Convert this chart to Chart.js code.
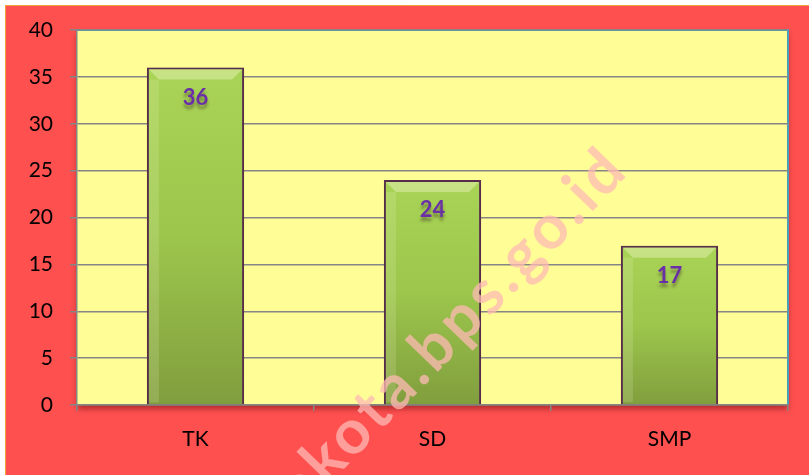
<!DOCTYPE html>
<html>
<head>
<meta charset="utf-8">
<script src="https://cdn.jsdelivr.net/npm/chart.js@4"></script>
<style>
  html, body { margin: 0; padding: 0; background: #fff; }
  #wrap { width: 809px; height: 475px; }
</style>
</head>
<body>
<div id="wrap"><canvas id="grafik"></canvas></div>
<script>
const KATEGORI = ['TK', 'SD', 'SMP'];
const JUMLAH = [36, 24, 17];
const SUMBU_Y = { min: 0, max: 40, langkah: 5 };
const TANDA_AIR_DEPAN = 'okota';
const TANDA_AIR_BELAKANG = '.bps.go.id';

const WARNA = {
  LATAR: '#ff5050',
  AREA: '#fffd96',
  GRID: '#868686',
  TEPI_AREA: '#4aa0b8',
  BATANG_ATAS: '#a9d456',
  BATANG_BAWAH: '#819e3e',
  TEPI_BATANG: '#5a3050',
  LABEL: '#6a2fa8',
};

const FONT = 'Lato, "Open Sans", sans-serif';

const latar = {
  id: 'latar',
  beforeDraw(chart) {
    const { ctx, width, height, chartArea: a } = chart;
    ctx.save();
    ctx.fillStyle = '#fff';
    ctx.fillRect(0, 0, width, height);
    ctx.fillStyle = WARNA.LATAR;
    ctx.fillRect(5, 5, width - 5, height - 5);
    ctx.strokeStyle = '#f4a040';
    ctx.lineWidth = 1;
    ctx.beginPath();
    ctx.moveTo(5.5, height);
    ctx.lineTo(5.5, 5.5);
    ctx.lineTo(width, 5.5);
    ctx.stroke();

    ctx.shadowColor = 'rgba(80,0,0,0.45)';
    ctx.shadowBlur = 6;
    ctx.shadowOffsetY = 4;
    ctx.fillStyle = WARNA.AREA;
    ctx.fillRect(a.left, a.top, a.right - a.left, a.bottom - a.top);
    ctx.restore();

    ctx.save();
    ctx.strokeStyle = WARNA.TEPI_AREA;
    ctx.lineWidth = 2;
    ctx.beginPath();
    ctx.moveTo(a.left, a.top);
    ctx.lineTo(a.right, a.top);
    ctx.lineTo(a.right, a.bottom);
    ctx.stroke();
    ctx.restore();
  },
  beforeDatasetsDraw(chart) {
    const { ctx } = chart;
    ctx.save();
    ctx.shadowColor = 'rgba(40,20,20,0.5)';
    ctx.shadowBlur = 5;
    ctx.shadowOffsetX = 0;
    ctx.shadowOffsetY = 1;
  },
  afterDatasetsDraw(chart) {
    const { ctx } = chart;
    ctx.restore();
    const meta = chart.getDatasetMeta(0);
    meta.data.forEach((batang, i) => {
      const kiri = batang.x - batang.width / 2 + 2;
      const kanan = batang.x + batang.width / 2 - 2;
      const atas = batang.y + 2;
      const bevel = 10;
      ctx.save();
      ctx.fillStyle = 'rgba(255,255,220,0.35)';
      ctx.beginPath();
      ctx.moveTo(kiri, atas);
      ctx.lineTo(kanan, atas);
      ctx.lineTo(kanan - bevel, atas + bevel);
      ctx.lineTo(kiri + bevel, atas + bevel);
      ctx.closePath();
      ctx.fill();
      ctx.fillStyle = 'rgba(255,255,220,0.15)';
      ctx.fillRect(kiri, atas + bevel, bevel, batang.base - atas - bevel - 2);
      ctx.restore();

      ctx.save();
      ctx.font = `bold 22px ${FONT}`;
      ctx.textAlign = 'center';
      ctx.textBaseline = 'middle';
      ctx.shadowColor = 'rgba(60,40,40,0.45)';
      ctx.shadowBlur = 3;
      ctx.shadowOffsetY = 4;
      ctx.fillStyle = WARNA.LABEL;
      ctx.fillText(String(JUMLAH[i]), batang.x, batang.y + 30);
      ctx.restore();
    });
  },
  afterDraw(chart) {
    const { ctx } = chart;
    ctx.save();
    ctx.translate(426, 384);
    ctx.rotate(-46 * Math.PI / 180);
    ctx.font = `bold 62px ${FONT}`;
    ctx.letterSpacing = '4px';
    ctx.textBaseline = 'alphabetic';
    ctx.fillStyle = 'rgba(255,185,180,0.75)';
    const titik = ctx.measureText('.').width;
    ctx.textAlign = 'right';
    ctx.fillText(TANDA_AIR_DEPAN, -titik / 2 + 4, 0);
    ctx.textAlign = 'left';
    ctx.fillText(TANDA_AIR_BELAKANG, -titik / 2 + 4, 0);
    ctx.restore();
  },
};

const gradienBatang = (context) => {
  const { chart, dataIndex } = context;
  const skalaY = chart.scales.y;
  if (!skalaY || !chart.chartArea) return WARNA.BATANG_ATAS;
  const atas = skalaY.getPixelForValue(JUMLAH[dataIndex]);
  const bawah = skalaY.getPixelForValue(0);
  if (!Number.isFinite(atas) || !Number.isFinite(bawah) || atas === bawah) return WARNA.BATANG_ATAS;
  const g = chart.ctx.createLinearGradient(0, atas, 0, bawah);
  g.addColorStop(0, WARNA.BATANG_ATAS);
  g.addColorStop(0.5, '#9cc64c');
  g.addColorStop(1, WARNA.BATANG_BAWAH);
  return g;
};

new Chart(document.getElementById('grafik'), {
  type: 'bar',
  plugins: [latar],
  data: {
    labels: KATEGORI,
    datasets: [{
      data: JUMLAH,
      backgroundColor: gradienBatang,
      borderColor: WARNA.TEPI_BATANG,
      borderWidth: 2,
      borderSkipped: 'bottom',
      categoryPercentage: 1,
      barPercentage: 0.41,
    }],
  },
  options: {
    responsive: true,
    maintainAspectRatio: false,
    animation: false,
    layout: { padding: { top: 30, right: 21, left: 0, bottom: 0 } },
    plugins: { legend: { display: false }, tooltip: { enabled: false } },
    scales: {
      x: {
        offset: true,
        afterFit: (skala) => { skala.height = 70; },
        grid: { drawOnChartArea: false, tickLength: 6, color: WARNA.GRID, lineWidth: 1.5, offset: true },
        border: { color: WARNA.GRID, width: 1.5 },
        ticks: { color: '#000', font: { family: FONT, size: 21 }, padding: 16 },
      },
      y: {
        min: SUMBU_Y.min,
        max: SUMBU_Y.max,
        afterFit: (skala) => { skala.width = 77; },
        grid: { color: WARNA.GRID, lineWidth: 1.5, tickLength: 7 },
        border: { color: WARNA.GRID, width: 1.5 },
        ticks: { stepSize: SUMBU_Y.langkah, color: '#000', font: { family: FONT, size: 21 }, padding: 17 },
      },
    },
  },
});
</script>
</body>
</html>
